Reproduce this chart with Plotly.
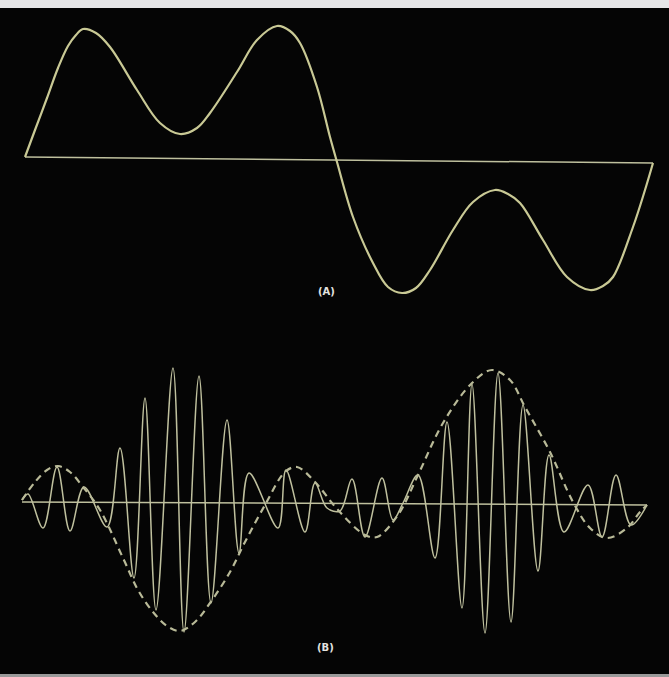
import plotly.graph_objects as go

# Values, in picture units (x right, y down)

# (A) waveform: fundamental plus third harmonic
a_x = [25, 35, 47, 58, 68, 76, 83, 96, 110, 137, 160, 180, 197, 210, 237, 257, 277, 290, 300,
       317, 330, 337, 353, 373, 388, 402, 416, 430, 453, 473, 495, 508, 520, 543, 567, 590,
       603, 613, 633, 645, 653]
a_y = [157, 130, 98, 68, 46, 35, 29, 33, 47, 90, 123, 134, 128, 113, 72, 40, 26, 31, 43,
       87, 137, 162, 217, 263, 287, 293, 288, 270, 230, 202, 190, 194, 203, 240, 277, 290,
       286, 277, 227, 190, 163]
a_base_x = [25, 653]
a_base_y = [157, 163]

# (B) modulated carrier
b_x = [22, 28, 43, 57, 70, 84, 107, 120, 134, 145, 156, 173, 184, 199, 211, 227, 239, 249,
       278, 286, 305, 315, 327, 340, 352, 365, 382, 393, 403, 418, 435, 447, 462, 472, 485,
       498, 511, 523, 538, 549, 564, 588, 602, 616, 631, 647]
b_y = [500, 494, 528, 467, 531, 487, 527, 448, 578, 398, 610, 368, 632, 376, 603, 420, 553, 473,
       528, 470, 532, 483, 508, 511, 479, 537, 478, 520, 503, 475, 558, 422, 608, 384, 633,
       373, 622, 405, 571, 455, 532, 485, 537, 475, 525, 505]

# (B) dashed envelope
env_x = [22, 35, 47, 58, 70, 83, 100, 123, 138, 153, 167, 180, 195, 210, 230, 245, 265, 285,
         297, 315, 338, 365, 377, 398, 418, 443, 472, 492, 510, 525, 550, 573, 590, 607, 627,
         640, 647]
env_y = [500, 482, 470, 466, 472, 487, 510, 558, 590, 612, 626, 631, 622, 603, 572, 542, 505, 472,
         467, 482, 510, 535, 537, 515, 475, 423, 383, 370, 380, 407, 452, 502, 528, 538, 528,
         512, 505]

b_base_x = [22, 647]
b_base_y = [502, 505]

labels = ["(A)", "(B)"]
label_x = [326, 325]
label_y = [291, 647]

curve_col = "#c9c995"
carrier_col = "#bfc09e"
env_col = "#b9ba98"

fig = go.Figure()

fig.add_trace(go.Scatter(x=a_base_x, y=a_base_y, mode="lines",
                         line=dict(color=carrier_col, width=1.5)))
fig.add_trace(go.Scatter(x=a_x, y=a_y, mode="lines",
                         line=dict(color=curve_col, width=2.2, shape="spline", smoothing=1.0)))

fig.add_trace(go.Scatter(x=b_base_x, y=b_base_y, mode="lines",
                         line=dict(color=carrier_col, width=1.5)))
fig.add_trace(go.Scatter(x=b_x, y=b_y, mode="lines",
                         line=dict(color=carrier_col, width=1.5, shape="spline", smoothing=1.0)))
fig.add_trace(go.Scatter(x=env_x, y=env_y, mode="lines",
                         line=dict(color=env_col, width=2.2, shape="spline", smoothing=1.0,
                                   dash="7px,5px")))

for t, x, y in zip(labels, label_x, label_y):
    fig.add_annotation(x=x, y=y, text="<b>%s</b>" % t, showarrow=False,
                       font=dict(family="DejaVu Sans", size=10, color="#e4e4e0"))

fig.update_layout(
    width=669,
    height=677,
    margin=dict(l=0, r=0, t=0, b=0),
    paper_bgcolor="#050505",
    plot_bgcolor="#050505",
    showlegend=False,
    hovermode=False,
    shapes=[
        # scan border at top and bottom
        dict(type="rect", xref="paper", yref="paper", x0=0, x1=1, y0=1 - 8 / 677, y1=1,
             fillcolor="#e6e6e8", line_width=0, layer="above"),
        dict(type="rect", xref="paper", yref="paper", x0=0, x1=1, y0=0, y1=3 / 677,
             fillcolor="#9a9a9a", line_width=0, layer="above"),
    ],
)
fig.update_xaxes(range=[0, 669], visible=False, fixedrange=True)
fig.update_yaxes(range=[677, 0], visible=False, fixedrange=True)

# page body has a default margin; drop it so the figure fills the window
fig.write_html("out.html", config={"displayModeBar": False},
               post_script="document.body.style.margin='0';document.body.style.overflow='hidden';")
